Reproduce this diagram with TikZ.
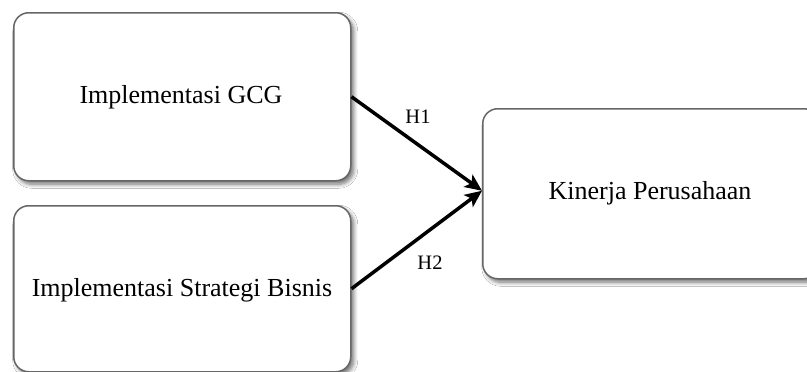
\documentclass[tikz,border=0pt]{standalone}
\usepackage{fontspec}
\setmainfont{Liberation Serif}
\usetikzlibrary{arrows.meta,shadows.blur}
\begin{document}
\begin{tikzpicture}[x=1pt,y=-1pt,
  box/.style={draw=black!60,line width=1.5pt,fill=white,rounded corners=15pt,
    blur shadow={shadow xshift=3pt,shadow yshift=-3.5pt,shadow blur steps=6,shadow blur radius=4pt,shadow opacity=55}},
  boxtext/.style={font=\fontsize{26}{30}\selectfont},
  lbl/.style={font=\fontsize{20.5}{24}\selectfont},
  arr/.style={line width=3.5pt,-{Stealth[length=17pt,width=15pt,inset=4pt]}}]
\useasboundingbox (0,0) rectangle (807,372);
\fill[white] (0,0) rectangle (807,372);
\node[box,minimum width=337pt,minimum height=168pt,anchor=north west] (a) at (13,12) {};
\node[box,minimum width=337pt,minimum height=166pt,anchor=north west] (b) at (13,205) {};
\node[box,minimum width=336pt,minimum height=170pt,anchor=north west] (k) at (482,108) {};
\node[boxtext] (ta) at (181,97) {Implementasi GCG};
\node[boxtext] (tb) at (182,290) {Implementasi Strategi Bisnis};
\node[boxtext] (tk) at (650,193) {Kinerja Perusahaan};
\draw[arr] (a.east) -- ([yshift=3pt]k.west);
\draw[arr] (b.east) -- ([yshift=3pt]k.west);
\node[lbl] (h1) at (418,117) {H1};
\node[lbl] (h2) at (430,263) {H2};
\end{tikzpicture}
\end{document}
